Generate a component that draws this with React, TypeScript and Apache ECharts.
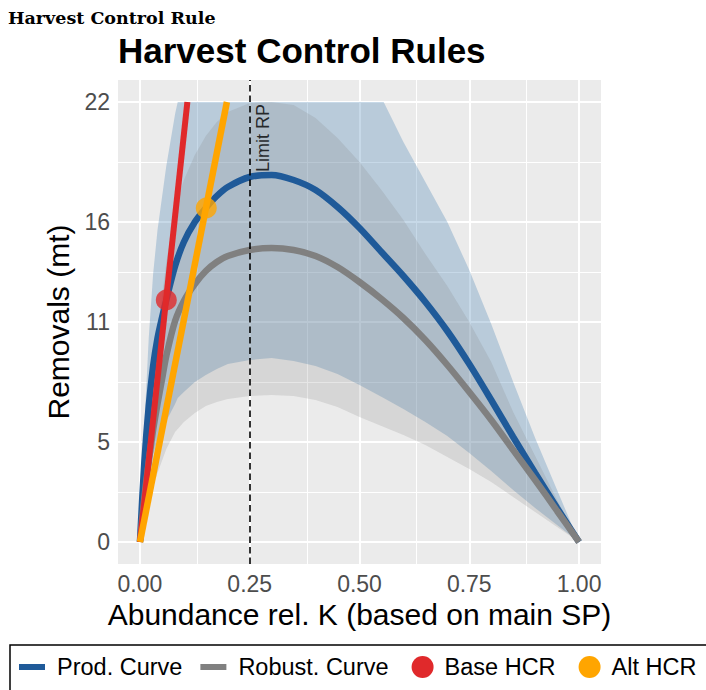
import { useEffect, useRef } from 'react';
import * as echarts from 'echarts';

const FONT = '"Liberation Sans", Arial, sans-serif';

// ---- data ----
const curveX = [0, 0.01, 0.02, 0.03, 0.04, 0.05, 0.06, 0.08, 0.1, 0.125, 0.15, 0.175, 0.2, 0.25, 0.3, 0.35, 0.4, 0.45, 0.5, 0.55, 0.6, 0.65, 0.7, 0.75, 0.8, 0.85, 0.9, 0.95, 1];
const prodCurve = [0, 4.0, 6.8, 8.8, 10.2, 11.2, 12.1, 13.8, 15.0, 16.0, 16.7, 17.3, 17.75, 18.25, 18.35, 18.1, 17.6, 16.75, 15.7, 14.5, 13.3, 12.0, 10.55, 8.9, 7.1, 5.25, 3.45, 1.7, 0];
const robustCurve = [0, 2.2, 4.0, 5.6, 6.9, 8.1, 9.3, 11.05, 12.05, 12.9, 13.55, 14.0, 14.3, 14.6, 14.7, 14.6, 14.3, 13.75, 13.0, 12.15, 11.2, 10.1, 8.85, 7.5, 6.1, 4.6, 3.1, 1.55, 0];

const prodBandX = [0, 0.01, 0.02, 0.03, 0.04, 0.05, 0.06, 0.08, 0.086, 0.1, 0.125, 0.15, 0.175, 0.2, 0.25, 0.3, 0.35, 0.4, 0.45, 0.5, 0.555, 0.6, 0.65, 0.7, 0.75, 0.8, 0.85, 0.9, 0.95, 1];
const prodBandLower = [0, 2.0, 3.4, 4.4, 5.1, 5.6, 6.05, 6.9, 7.2, 7.5, 8.0, 8.35, 8.65, 8.9, 9.1, 9.2, 9.05, 8.8, 8.4, 7.85, 7.2, 6.65, 6.0, 5.3, 4.45, 3.55, 2.6, 1.7, 0.85, 0];
const prodBandUpper = [0, 5.8, 10.2, 13.4, 15.6, 17.2, 18.8, 21.4, 22, 22, 22, 22, 22, 22, 22, 22, 22, 22, 22, 22, 22, 20.0, 18.0, 16.0, 13.6, 10.9, 8.0, 5.2, 2.6, 0];

const robustBandX = curveX;
const robustBandLower = [0, 1.1, 2.0, 2.8, 3.45, 4.05, 4.65, 5.5, 6.0, 6.45, 6.8, 7.0, 7.15, 7.3, 7.35, 7.3, 7.1, 6.75, 6.25, 5.8, 5.35, 4.85, 4.25, 3.65, 3.0, 2.25, 1.5, 0.75, 0];
const robustBandUpper = [0, 3.3, 6.0, 8.4, 10.35, 12.2, 14.0, 16.6, 18.1, 19.35, 20.3, 21.0, 21.5, 21.95, 22, 21.85, 21.2, 20.2, 19.0, 17.6, 16.1, 14.4, 12.8, 11.0, 9.0, 6.5, 4.3, 2.1, 0];

const baseHcrX = [0, 0.108];
const baseHcrY = [0, 22];
const altHcrX = [0, 0.198];
const altHcrY = [0, 22];
const baseHcrPoint = [0.06, 12.1];
const altHcrPoint = [0.151, 16.7];

const limitRp = 0.25;
const limitRpLabelPos = [0.281, 20.2];

const xTicks = [0, 0.25, 0.5, 0.75, 1];
const xTickLabels = ['0.00', '0.25', '0.50', '0.75', '1.00'];
const xMinorGrid = [0.125, 0.375, 0.625, 0.875];
const yTicks = [0, 5, 11, 16, 22];
const yTickLabels = ['0', '5', '11', '16', '22'];
const yMinorGrid = [2.5, 8, 13.5, 19];

const legendNames = ['Prod. Curve', 'Robust. Curve', 'Base HCR', 'Alt HCR'];

const COLORS = {
  prod: '#1F5A99',
  robust: '#808080',
  base: '#E0292B',
  alt: '#FFA500',
  prodBand: 'rgba(70,130,180,0.30)',
  robustBand: 'rgba(128,128,128,0.20)',
};

const zip = (xs: number[], ys: number[]) => xs.map((x, i) => [x, ys[i]]);

const LINE_ICON = 'path://M0,0M0,8h26v6h-26zM33,22';
const DOT_ICON = 'path://M0,0M5,11a11,11 0 1,0 22,0a11,11 0 1,0 -22,0zM33,22';

function bandSeries(name: string, xs: number[], lo: number[], hi: number[], color: string) {
  return {
    type: 'custom',
    name,
    z: 2,
    silent: true,
    data: xs.map((x, i) => [x, lo[i], hi[i]]),
    encode: { x: 0, y: [1, 2] },
    renderItem: (params: any, api: any) => {
      if (params.dataIndex !== 0) return null;
      const top = xs.map((x, i) => api.coord([x, hi[i]]));
      const bot = xs.map((x, i) => api.coord([x, lo[i]])).reverse();
      return {
        type: 'polygon',
        shape: { points: top.concat(bot), smooth: 0 },
        style: { fill: color },
      };
    },
  };
}

export default function App() {
  const ref = useRef<HTMLDivElement>(null);

  useEffect(() => {
    document.body.style.margin = '0';
    if (!ref.current) return;
    const chart = echarts.init(ref.current, undefined, { renderer: 'svg' });

    const gridLines = [
      ...xTicks.map((v) => ({ xAxis: v, lineStyle: { color: '#FFFFFF', width: 2, type: 'solid' } })),
      ...xMinorGrid.map((v) => ({ xAxis: v, lineStyle: { color: '#FFFFFF', width: 1, type: 'solid' } })),
      ...yTicks.map((v) => ({ yAxis: v, lineStyle: { color: '#FFFFFF', width: 2, type: 'solid' } })),
      ...yMinorGrid.map((v) => ({ yAxis: v, lineStyle: { color: '#FFFFFF', width: 1, type: 'solid' } })),
    ];

    const option: any = {
      animation: false,
      title: [
        {
          text: 'Harvest Control Rule',
          left: 8,
          top: 9,
          padding: 0,
          textStyle: { fontFamily: '"DejaVu Serif", serif', fontWeight: 'bold', fontSize: 17.5, color: '#000' },
        },
        {
          text: 'Harvest Control Rules',
          left: 118,
          top: 33,
          padding: 0,
          textStyle: { fontFamily: FONT, fontWeight: 'bold', fontSize: 35, color: '#000' },
        },
      ],
      grid: {
        left: 118,
        right: 105,
        top: 80,
        bottom: 126,
        show: true,
        backgroundColor: '#EBEBEB',
        borderWidth: 0,
      },
      xAxis: {
        type: 'value',
        min: -0.05,
        max: 1.05,
        name: 'Abundance rel. K (based on main SP)',
        nameLocation: 'middle',
        nameGap: 30,
        nameTextStyle: { fontFamily: FONT, fontSize: 30, color: '#000' },
        axisLine: { show: false },
        axisTick: { show: true, customValues: xTicks, length: 5, lineStyle: { color: '#333333', width: 1.5 } },
        axisLabel: {
          customValues: xTicks,
          formatter: (v: number) => {
            const i = xTicks.findIndex((t) => Math.abs(t - v) < 1e-9);
            return i >= 0 ? xTickLabels[i] : '';
          },
          color: '#4D4D4D',
          fontFamily: FONT,
          fontSize: 23,
          margin: 8,
        },
        splitLine: { show: false },
      },
      yAxis: {
        type: 'value',
        min: -1.1,
        max: 23.1,
        name: 'Removals (mt)',
        nameLocation: 'middle',
        nameGap: 38,
        nameTextStyle: { fontFamily: FONT, fontSize: 30, color: '#000' },
        axisLine: { show: false },
        axisTick: { show: true, customValues: yTicks, length: 5, lineStyle: { color: '#333333', width: 1.5 } },
        axisLabel: {
          customValues: yTicks,
          formatter: (v: number) => {
            const i = yTicks.findIndex((t) => Math.abs(t - v) < 1e-9);
            return i >= 0 ? yTickLabels[i] : '';
          },
          color: '#4D4D4D',
          fontFamily: FONT,
          fontSize: 23,
          margin: 8,
        },
        splitLine: { show: false },
      },
      legend: {
        left: 10,
        top: 645,
        width: 1000,
        orient: 'horizontal',
        padding: [10, 20, 20, 9],
        borderColor: '#000000',
        borderWidth: 1.5,
        itemWidth: 33,
        itemHeight: 22,
        itemGap: 18,
        selectedMode: false,
        textStyle: { fontFamily: FONT, fontSize: 23.5, color: '#000' },
        data: [
          { name: legendNames[0], icon: LINE_ICON, itemStyle: { color: COLORS.prod, borderWidth: 0 } },
          { name: legendNames[1], icon: LINE_ICON, itemStyle: { color: COLORS.robust, borderWidth: 0 } },
          { name: legendNames[2], icon: DOT_ICON, itemStyle: { color: COLORS.base, borderWidth: 0 } },
          { name: legendNames[3], icon: DOT_ICON, itemStyle: { color: COLORS.alt, borderWidth: 0 } },
        ],
      },
      series: [
        {
          type: 'line',
          name: 'grid',
          data: [],
          silent: true,
          markLine: {
            silent: true,
            z: 1,
            symbol: ['none', 'none'],
            label: { show: false },
            lineStyle: { type: 'solid' },
            data: gridLines,
          },
        },
        bandSeries('prodBand', prodBandX, prodBandLower, prodBandUpper, COLORS.prodBand),
        bandSeries('robustBand', robustBandX, robustBandLower, robustBandUpper, COLORS.robustBand),
        {
          type: 'line',
          name: legendNames[0],
          z: 3,
          data: zip(curveX, prodCurve),
          symbol: 'none',
          showSymbol: false,
          smooth: 0.3,
          color: COLORS.prod,
          lineStyle: { color: COLORS.prod, width: 6.5 },
          silent: true,
        },
        {
          type: 'line',
          name: legendNames[1],
          z: 3,
          data: zip(curveX, robustCurve),
          symbol: 'none',
          showSymbol: false,
          smooth: 0.3,
          color: COLORS.robust,
          lineStyle: { color: COLORS.robust, width: 6.5 },
          silent: true,
        },
        {
          type: 'line',
          name: legendNames[2],
          z: 3,
          data: zip(baseHcrX, baseHcrY),
          symbol: 'none',
          showSymbol: false,
          color: COLORS.base,
          lineStyle: { color: COLORS.base, width: 6 },
          silent: true,
        },
        {
          type: 'scatter',
          name: legendNames[2],
          z: 4,
          data: [baseHcrPoint],
          symbolSize: 21,
          color: COLORS.base,
          itemStyle: { color: COLORS.base },
          silent: true,
        },
        {
          type: 'line',
          name: legendNames[3],
          z: 3,
          data: zip(altHcrX, altHcrY),
          symbol: 'none',
          showSymbol: false,
          color: COLORS.alt,
          lineStyle: { color: COLORS.alt, width: 6.5 },
          silent: true,
        },
        {
          type: 'scatter',
          name: legendNames[3],
          z: 4,
          data: [altHcrPoint],
          symbolSize: 21,
          color: COLORS.alt,
          itemStyle: { color: COLORS.alt },
          silent: true,
        },
        {
          type: 'scatter',
          name: 'Limit RP',
          z: 5,
          data: [limitRpLabelPos],
          symbolSize: 0,
          silent: true,
          label: {
            show: true,
            formatter: 'Limit RP',
            position: 'inside',
            rotate: 90,
            align: 'center',
            verticalAlign: 'middle',
            fontFamily: FONT,
            fontSize: 18,
            color: '#000',
          },
          markLine: {
            silent: true,
            z: 5,
            symbol: ['none', 'none'],
            label: { show: false },
            lineStyle: { color: '#000', width: 1.6, type: [6.5, 4] },
            data: [{ xAxis: limitRp }],
          },
        },
      ],
    };

    chart.setOption(option);
    return () => chart.dispose();
  }, []);

  return <div ref={ref} style={{ width: 706, height: 690 }} />;
}
